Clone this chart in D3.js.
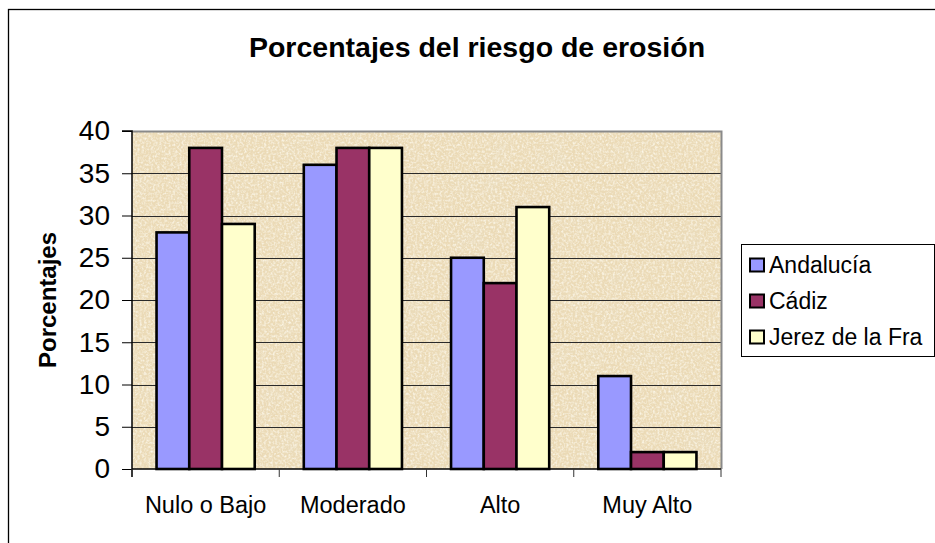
<!DOCTYPE html>
<html>
<head>
<meta charset="utf-8">
<script src="https://cdn.jsdelivr.net/npm/d3@7"></script>
<style>
  html, body { margin: 0; padding: 0; background: #fff; }
  svg { display: block; font-family: Arial, "Liberation Sans", sans-serif; }
</style>
</head>
<body>
<svg id="chart" width="935" height="543"></svg>
<script>
// Chart data
const categories = ["Nulo o Bajo", "Moderado", "Alto", "Muy Alto"];
const seriesNames = ["Andalucía", "Cádiz", "Jerez de la Fra"];
const andalucia = [28, 36, 25, 11];
const cadiz = [38, 38, 22, 2];
const jerez = [29, 38, 31, 2];
const yTicks = [0, 5, 10, 15, 20, 25, 30, 35, 40];
const colors = ["#9999FF", "#993366", "#FFFFCC"];

const seriesValues = [andalucia, cadiz, jerez];

const svg = d3.select("#chart");

// Parchment texture for the plotting area
const defs = svg.append("defs");
const filt = defs.append("filter").attr("id", "parchment")
  .attr("x", 0).attr("y", 0).attr("width", 1).attr("height", 1);
filt.append("feTurbulence").attr("type", "fractalNoise")
  .attr("baseFrequency", "0.035").attr("numOctaves", 4).attr("seed", 7).attr("result", "noise");
filt.append("feColorMatrix").attr("in", "noise").attr("type", "matrix")
  .attr("values", "0 0 0 0 0.82  0 0 0 0 0.72  0 0 0 0 0.52  -1.6 0 0 0 0.82")
  .attr("result", "tint");
filt.append("feComposite").attr("in", "tint").attr("in2", "SourceGraphic").attr("operator", "in");

const fineFilt = defs.append("filter").attr("id", "speckle")
  .attr("x", 0).attr("y", 0).attr("width", 1).attr("height", 1);
fineFilt.append("feTurbulence").attr("type", "fractalNoise")
  .attr("baseFrequency", "0.45").attr("numOctaves", 2).attr("seed", 3).attr("result", "noise");
fineFilt.append("feColorMatrix").attr("in", "noise").attr("type", "matrix")
  .attr("values", "0 0 0 0 0.97  0 0 0 0 0.93  0 0 0 0 0.82  2.0 0 0 0 -0.8")
  .attr("result", "tint");
fineFilt.append("feComposite").attr("in", "tint").attr("in2", "SourceGraphic").attr("operator", "in");

// Outer frame of the chart
svg.append("rect")
  .attr("x", 8.5).attr("y", 9.5).attr("width", 960).attr("height", 560)
  .attr("fill", "#fff").attr("stroke", "#000").attr("stroke-width", 1.3);

const plot = { left: 132, right: 721, top: 131, bottom: 469 };

const x0 = d3.scaleBand()
  .domain(categories)
  .range([plot.left, plot.right])
  .paddingInner(1 / 3)
  .paddingOuter(1 / 6);

const x1 = d3.scaleBand()
  .domain(seriesNames)
  .range([0, x0.bandwidth()]);

const y = d3.scaleLinear().domain([0, 40]).range([plot.bottom, plot.top]);

// Plot area background
svg.append("rect")
  .attr("x", plot.left).attr("y", plot.top)
  .attr("width", plot.right - plot.left).attr("height", plot.bottom - plot.top)
  .attr("fill", "#ebdab6");
svg.append("rect")
  .attr("x", plot.left).attr("y", plot.top)
  .attr("width", plot.right - plot.left).attr("height", plot.bottom - plot.top)
  .attr("fill", "#fff").attr("filter", "url(#parchment)");
svg.append("rect")
  .attr("x", plot.left).attr("y", plot.top)
  .attr("width", plot.right - plot.left).attr("height", plot.bottom - plot.top)
  .attr("fill", "#fff").attr("filter", "url(#speckle)");

// Horizontal gridlines
svg.append("g")
  .selectAll("line")
  .data(yTicks.filter(t => t > 0 && t < 40))
  .join("line")
  .attr("x1", plot.left).attr("x2", plot.right)
  .attr("y1", d => Math.round(y(d)) + 0.5).attr("y2", d => Math.round(y(d)) + 0.5)
  .attr("stroke", "#2a2a2a").attr("stroke-width", 1);

// Plot area border (top and right)
svg.append("path")
  .attr("d", `M${plot.left},${plot.top + 0.5}H${plot.right + 0.5}V${plot.bottom}`)
  .attr("fill", "none").attr("stroke", "#8a8a8a").attr("stroke-width", 2);

// Bars
const groups = svg.append("g")
  .selectAll("g")
  .data(categories)
  .join("g")
  .attr("transform", d => `translate(${x0(d)},0)`);

groups.selectAll("rect")
  .data((c, i) => seriesNames.map((s, k) => ({ series: s, k, value: seriesValues[k][i] })))
  .join("rect")
  .attr("x", d => x1(d.series))
  .attr("y", d => y(d.value))
  .attr("width", x1.bandwidth())
  .attr("height", d => y(0) - y(d.value))
  .attr("fill", d => colors[d.k])
  .attr("stroke", "#000")
  .attr("stroke-width", 2.6);

// Y axis
const yAxis = d3.axisLeft(y).tickValues(yTicks).tickSize(10).tickPadding(12);
const gy = svg.append("g")
  .attr("transform", `translate(${plot.left},0)`)
  .call(yAxis);
gy.select(".domain").attr("stroke", "#000").attr("stroke-width", 1.5)
  .attr("d", `M-10,${plot.top}H0V${plot.bottom + 8}`);
gy.selectAll(".tick line").attr("stroke", "#000");
gy.selectAll(".tick text")
  .attr("font-size", 28).attr("fill", "#000")
  .attr("font-family", "Arial, 'Liberation Sans', sans-serif");

// X axis baseline and category boundary ticks
const step = x0.step();
const boundaries = categories.map(c => x0(c) - (step - x0.bandwidth()) / 2).concat([plot.right]);
svg.append("line")
  .attr("x1", plot.left).attr("x2", plot.right)
  .attr("y1", plot.bottom).attr("y2", plot.bottom)
  .attr("stroke", "#000").attr("stroke-width", 1.5);
svg.append("g")
  .selectAll("line")
  .data(boundaries)
  .join("line")
  .attr("x1", d => d).attr("x2", d => d)
  .attr("y1", plot.bottom).attr("y2", plot.bottom + 8)
  .attr("stroke", "#333").attr("stroke-width", 1);

svg.append("g")
  .selectAll("text")
  .data(categories)
  .join("text")
  .attr("x", d => x0(d) + x0.bandwidth() / 2)
  .attr("y", 513)
  .attr("text-anchor", "middle")
  .attr("font-size", 23.5)
  .text(d => d);

// Title
svg.append("text")
  .attr("x", 477).attr("y", 57)
  .attr("text-anchor", "middle")
  .attr("font-size", 28.5).attr("font-weight", "bold")
  .text("Porcentajes del riesgo de erosión");

// Y axis title
svg.append("text")
  .attr("transform", "translate(56,300) rotate(-90)")
  .attr("text-anchor", "middle")
  .attr("font-size", 24).attr("font-weight", "bold")
  .text("Porcentajes");

// Legend
const legend = svg.append("g");
legend.append("rect")
  .attr("x", 741.5).attr("y", 244.5).attr("width", 193).attr("height", 112)
  .attr("fill", "#fff").attr("stroke", "#000").attr("stroke-width", 1);

const legendRows = [265, 301, 337];
const item = legend.selectAll("g.item")
  .data(seriesNames)
  .join("g")
  .attr("class", "item")
  .attr("transform", (d, i) => `translate(0,${legendRows[i]})`);
item.append("rect")
  .attr("x", 750).attr("y", -6.5).attr("width", 14).attr("height", 13)
  .attr("fill", (d, i) => colors[i])
  .attr("stroke", "#000").attr("stroke-width", 2);
item.append("text")
  .attr("x", 769).attr("y", 8.3)
  .attr("font-size", 23)
  .text(d => d);
</script>
</body>
</html>
